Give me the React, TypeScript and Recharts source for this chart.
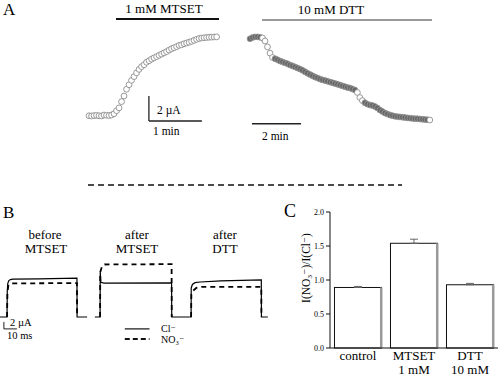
import {
  Bar,
  BarChart,
  ErrorBar,
  Line,
  LineChart,
  ReferenceLine,
  Scatter,
  ScatterChart,
  XAxis,
  YAxis,
} from "recharts";

const FONT = "'Liberation Serif', 'DejaVu Serif', serif";

// Panel A: current (µA) sampled at a fixed interval (min)
const mtsetInterval = 0.0472;
const mtsetCurrent = [
  0.02, 0.0, 0.03, 0.05, 0.02, 0.0, 0.08, 0.06, 0.04, 0.08, 0.18, 0.42, 0.65, 1.15,
  1.6, 2.14, 2.5, 2.85, 3.15, 3.45, 3.73, 3.95, 4.1, 4.3, 4.42, 4.55, 4.65, 4.75,
  4.85, 4.95, 5.05, 5.15, 5.27, 5.38, 5.46, 5.55, 5.65, 5.7, 5.78, 5.84, 5.9, 5.97,
  6.05, 6.13, 6.2, 6.24, 6.26, 6.28, 6.3, 6.31, 6.32, 6.33,
];

const dttInterval = 0.102;
const dttCurrent = [
  6.5, 6.6, 6.65, 6.65, 6.62, 6.56, 6.32, 5.85, 5.35, 5.0, 4.9, 4.82, 4.72, 4.65,
  4.57, 4.5, 4.4, 4.33, 4.25, 4.16, 4.08, 3.98, 3.86, 3.74, 3.64, 3.54, 3.44, 3.36,
  3.28, 3.21, 3.16, 3.1, 3.04, 2.98, 2.92, 2.86, 2.8, 2.73, 2.67, 2.6, 2.56, 2.48,
  2.4, 2.2, 1.8, 1.55, 1.38, 1.27, 1.2, 1.16, 1.08, 0.96, 0.8, 0.68, 0.56, 0.48, 0.4,
  0.35, 0.3, 0.27, 0.25, 0.22, 0.2, 0.17, 0.15, 0.13, 0.11, 0.1, 0.08, 0.06, 0.04,
  0.02, 0.0,
];
const dttOpenIdx = [5, 6, 7, 8, 9, 43, 44, 45, 72];

// Panel B: current traces (ms, µA)
const beforeCl = [
  [0, 0], [5.4, 0], [5.6, 7.5], [6.0, 9.6], [6.8, 10.4], [8, 10.7], [10, 10.8],
  [30, 10.9], [59.2, 11.1], [59.3, 0], [67, 0],
];
const beforeNO3 = [
  [5.4, 0], [5.7, 6.5], [6.3, 8.8], [7.5, 9.4], [10, 9.6], [59.2, 9.7], [59.3, 0],
];
const afterMtsetCl = [
  [73, 0], [77, 0], [77.1, 13], [77.6, 9.9], [80, 9.7], [132, 9.75], [132.1, 0], [146, 0],
];
const afterMtsetNO3 = [
  [77, 0], [77.1, 12.8], [78.5, 14.5], [80.5, 15.0], [132, 15.1], [132.1, 0],
];
const afterDttCl = [
  [146, 0], [147, 0], [147.1, 8.3], [148, 9.3], [150, 9.8], [154, 10.0], [170, 10.3],
  [201, 10.6], [201.1, 0], [206, 0],
];
const afterDttNO3 = [
  [147, 0], [147.2, 6.5], [148.5, 7.5], [151, 8.3], [155, 8.6], [201, 8.6], [201.1, 0],
];

// Panel C
const groups = ["control", "MTSET", "DTT"];
const groupSub = ["", "1 mM", "10 mM"];
const ratio = [0.89, 1.54, 0.93];
const ratioErr = [0.015, 0.06, 0.02];
const ratioTicks = [0, 0.5, 1, 1.5, 2];

const toPts = (vals: number[], dt: number) => vals.map((i, k) => ({ t: k * dt, i, k }));
const toTrace = (pairs: number[][]) => pairs.map(([t, i]) => ({ t, i }));

const barData = groups.map((name, k) => ({
  name,
  v: ratio[k],
  err: [0, ratioErr[k]],
}));

function T({ x, cy, size = 12, center, children }: any) {
  return (
    <div
      style={{
        position: "absolute",
        left: x,
        top: cy - size * 0.5,
        fontSize: size,
        lineHeight: 1,
        fontFamily: FONT,
        color: "#000",
        whiteSpace: "nowrap",
        transform: center ? "translateX(-50%)" : undefined,
      }}
    >
      {children}
    </div>
  );
}

function OpenCircle(props: any) {
  return <circle cx={props.cx} cy={props.cy} r={2.9} fill="#fff" stroke="#808080" strokeWidth={0.8} />;
}

function DttCircle(props: any) {
  const open = dttOpenIdx.includes(props.payload.k);
  return (
    <circle
      cx={props.cx}
      cy={props.cy}
      r={2.9}
      fill={open ? "#fff" : "#666"}
      stroke={open ? "#808080" : "#999"}
      strokeWidth={0.8}
    />
  );
}

function ShadedBar(props: any) {
  const { x, y, width, height } = props;
  return (
    <g>
      <rect x={x} y={y} width={width} height={height} fill="#fff" stroke="#111" strokeWidth={1} />
      <rect x={x + width - 1.5} y={y} width={2.5} height={height} fill="#999" />
    </g>
  );
}

function CatTick(props: any) {
  const { x, y, payload } = props;
  const k = groups.indexOf(payload.value);
  return (
    <text x={x} y={y} textAnchor="middle" fontFamily={FONT} fontSize={13} fill="#000">
      <tspan x={x} dy={6}>{payload.value}</tspan>
      <tspan x={x} dy={14}>{groupSub[k]}</tspan>
    </text>
  );
}

const traceLine = (data: number[][], dashed: boolean, key: string) => (
  <Line
    key={key}
    data={toTrace(data)}
    dataKey="i"
    type="linear"
    stroke="#000"
    strokeWidth={dashed ? 1.8 : 1.2}
    strokeDasharray={dashed ? "5 4" : undefined}
    dot={false}
    isAnimationActive={false}
  />
);

export default function App() {
  return (
    <div
      style={{
        position: "absolute",
        left: 0,
        top: 0,
        width: 500,
        height: 376,
        background: "#fff",
        overflow: "hidden",
      }}
    >
      {/* Panel A */}
      <T x={3} cy={9} size={17}>A</T>
      <T x={164} cy={8} size={13} center>1 mM MTSET</T>
      <div style={{ position: "absolute", left: 116, top: 18, width: 103, height: 2, background: "#111" }} />
      <T x={331} cy={9} size={13} center>10 mM DTT</T>
      <div style={{ position: "absolute", left: 262, top: 19, width: 170, height: 2, background: "#999" }} />

      <div style={{ position: "absolute", left: 80, top: 25 }}>
        <ScatterChart width={150} height={110} margin={{ top: 0, right: 0, bottom: 0, left: 0 }}>
          <XAxis type="number" dataKey="t" domain={[-0.17, 2.66]} hide allowDataOverflow />
          <YAxis type="number" dataKey="i" domain={[-1.52, 7.28]} hide allowDataOverflow />
          <Scatter data={toPts(mtsetCurrent, mtsetInterval)} shape={OpenCircle} isAnimationActive={false} />
          <ReferenceLine segment={[{ x: 1.13, y: 1.6 }, { x: 1.13, y: -0.4 }]} stroke="#222" strokeWidth={1.3} ifOverflow="visible" />
          <ReferenceLine segment={[{ x: 1.13, y: -0.4 }, { x: 2.13, y: -0.4 }]} stroke="#222" strokeWidth={1.3} ifOverflow="visible" />
        </ScatterChart>
      </div>
      <T x={157} cy={111} size={11.5}>2 µA</T>
      <T x={153} cy={132} size={11.5}>1 min</T>

      <div style={{ position: "absolute", left: 240, top: 25 }}>
        <ScatterChart width={200} height={110} margin={{ top: 0, right: 0, bottom: 0, left: 0 }}>
          <XAxis type="number" dataKey="t" domain={[-0.41, 7.76]} hide allowDataOverflow />
          <YAxis type="number" dataKey="i" domain={[-1.2, 7.6]} hide allowDataOverflow />
          <Scatter data={toPts(dttCurrent, dttInterval)} shape={DttCircle} isAnimationActive={false} />
          <ReferenceLine segment={[{ x: 0.08, y: -0.3 }, { x: 2.08, y: -0.3 }]} stroke="#222" strokeWidth={1.3} ifOverflow="visible" />
        </ScatterChart>
      </div>
      <T x={262} cy={137} size={11.5}>2 min</T>

      {/* separator */}
      <svg style={{ position: "absolute", left: 0, top: 0 }} width={500} height={376}>
        <line x1={88} y1={185} x2={402} y2={185} stroke="#111" strokeWidth={1.5} strokeDasharray="6 4" />
      </svg>

      {/* Panel B */}
      <T x={3} cy={212} size={17}>B</T>
      <T x={45} cy={234} size={13} center>before</T>
      <T x={46} cy={248} size={13} center>MTSET</T>
      <T x={137} cy={234} size={13} center>after</T>
      <T x={137} cy={248} size={13} center>MTSET</T>
      <T x={225} cy={234} size={13} center>after</T>
      <T x={225} cy={248} size={13} center>DTT</T>

      <div style={{ position: "absolute", left: 0, top: 254 }}>
        <LineChart width={273} height={91} margin={{ top: 0, right: 0, bottom: 0, left: 0 }}>
          <XAxis type="number" dataKey="t" domain={[0, 210]} hide allowDataOverflow />
          <YAxis type="number" domain={[-8, 18]} hide allowDataOverflow />
          {traceLine(beforeNO3, true, "b2")}
          {traceLine(beforeCl, false, "b1")}
          {traceLine(afterMtsetNO3, true, "m2")}
          {traceLine(afterMtsetCl, false, "m1")}
          {traceLine(afterDttNO3, true, "d2")}
          {traceLine(afterDttCl, false, "d1")}
          <ReferenceLine segment={[{ x: 3, y: -1.4 }, { x: 3, y: -3.4 }]} stroke="#222" strokeWidth={1} ifOverflow="visible" />
          <ReferenceLine segment={[{ x: 3, y: -3.4 }, { x: 13, y: -3.4 }]} stroke="#222" strokeWidth={1} ifOverflow="visible" />
          <ReferenceLine segment={[{ x: 96, y: -3.4 }, { x: 115, y: -3.4 }]} stroke="#111" strokeWidth={1.2} ifOverflow="visible" />
          <ReferenceLine segment={[{ x: 96, y: -6.3 }, { x: 115, y: -6.3 }]} stroke="#111" strokeWidth={2} strokeDasharray="5 3" ifOverflow="visible" />
        </LineChart>
      </div>
      <T x={10} cy={323} size={10.5}>2 µA</T>
      <T x={7} cy={336} size={10.5}>10 ms</T>
      <T x={161} cy={328.5} size={10}>Cl⁻</T>
      <T x={161} cy={340} size={10}>NO₃⁻</T>

      {/* Panel C */}
      <T x={284} cy={211} size={18}>C</T>
      <div
        style={{
          position: "absolute",
          left: 307,
          top: 268,
          fontFamily: FONT,
          fontSize: 11.5,
          lineHeight: 1,
          color: "#000",
          whiteSpace: "nowrap",
          transform: "translate(-50%, -50%) rotate(-90deg)",
        }}
      >
        I(NO₃⁻)/I(Cl⁻)
      </div>
      <div style={{ position: "absolute", left: 280, top: 205 }}>
        <BarChart
          width={220}
          height={171}
          data={barData}
          margin={{ top: 7, right: 2, bottom: 0, left: 0 }}
          barCategoryGap="8%"
        >
          <XAxis
            dataKey="name"
            tickLine={false}
            axisLine={{ stroke: "#111" }}
            height={28}
            tickSize={6}
            tickMargin={0}
            tick={<CatTick />}
            interval={0}
          />
          <YAxis
            type="number"
            domain={[0, 2]}
            ticks={ratioTicks}
            tickFormatter={(v: number) => v.toFixed(1)}
            width={50}
            tickSize={4}
            tickMargin={2}
            axisLine={{ stroke: "#111" }}
            tickLine={{ stroke: "#111" }}
            tick={{ fontSize: 8, fill: "#000", fontFamily: FONT }}
          />
          <Bar dataKey="v" shape={ShadedBar} isAnimationActive={false}>
            <ErrorBar dataKey="err" direction="y" width={4} stroke="#666" strokeWidth={1} />
          </Bar>
        </BarChart>
      </div>
    </div>
  );
}
